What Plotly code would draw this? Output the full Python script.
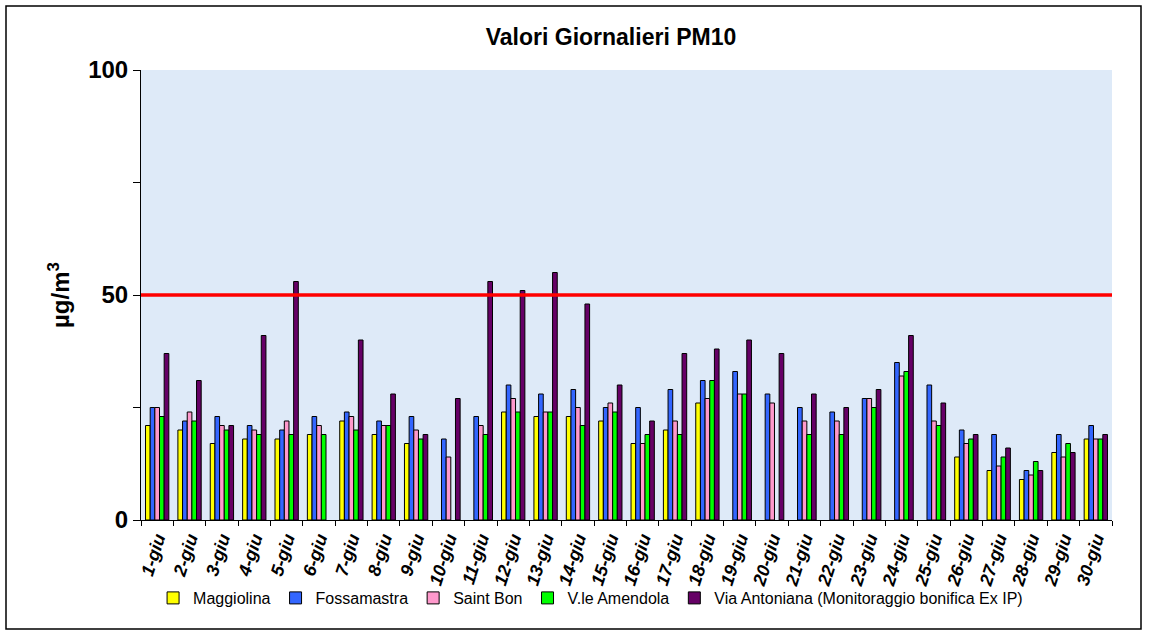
import plotly.graph_objects as go

days = [f"{i}-giu" for i in range(1, 31)]

maggiolina = [21, 20, 17, 18, 18, 19, 22, 19, 17, None, None, 24, 23, 23, 22,
              17, 20, 26, None, None, None, None, None, None, None, 14, 11, 9, 15, 18]
fossamastra = [25, 22, 23, 21, 20, 23, 24, 22, 23, 18, 23, 30, 28, 29, 25,
               25, 29, 31, 33, 28, 25, 24, 27, 35, 30, 20, 19, 11, 19, 21]
saint_bon = [25, 24, 21, 20, 22, 21, 23, 21, 20, 14, 21, 27, 24, 25, 26,
             17, 22, 27, 28, 26, 22, 22, 27, 32, 22, 17, 12, 10, 14, 18]
amendola = [23, 22, 20, 19, 19, 19, 20, 21, 18, None, 19, 24, 24, 21, 24,
            19, 19, 31, 28, None, 19, 19, 25, 33, 21, 18, 14, 13, 17, 18]
antoniana = [37, 31, 21, 41, 53, None, 40, 28, 19, 27, 53, 51, 55, 48, 30,
             22, 37, 38, 40, 37, 28, 25, 29, 41, 26, 19, 16, 11, 15, 19]

series = [
    ("Maggiolina", maggiolina, "#ffff00"),
    ("Fossamastra", fossamastra, "#3366ff"),
    ("Saint Bon", saint_bon, "#ff99cc"),
    ("V.le Amendola", amendola, "#00ff00"),
    ("Via Antoniana (Monitoraggio bonifica Ex IP)", antoniana, "#660066"),
]
limit_value = 50
y_ticks = [0, 25, 50, 75, 100]
y_ticktext = ["0", "", "50", "", "100"]

fig = go.Figure()
for name, vals, col in series:
    fig.add_trace(go.Bar(
        x=days, y=vals, name=name,
        marker=dict(color=col, line=dict(color="black", width=1)),
    ))

W, H = 1149, 636
L, R, T, B = 141, 37, 70, 116
pw, ph = W - L - R, H - T - B
FONT = "Liberation Sans, Arial"

fig.add_shape(type="line", xref="paper", yref="y", x0=0, x1=1,
              y0=limit_value, y1=limit_value,
              line=dict(color="#ff0000", width=3.5))
# outer border
fig.add_shape(type="rect", xref="paper", yref="paper",
              x0=(6 - L) / pw, x1=(1141 - L) / pw,
              y0=(H - B - 629) / ph, y1=(H - B - 6) / ph,
              line=dict(color="black", width=1.5), fillcolor="rgba(0,0,0,0)")

fig.add_annotation(
    text="<b>µg/m<sup>3</sup></b>", xref="paper", yref="paper",
    x=(42 - L) / pw, y=0.5, textangle=-90, showarrow=False,
    font=dict(family=FONT, size=24, color="black"),
)

fig.update_layout(
    width=W, height=H,
    margin=dict(l=L, r=R, t=T, b=B, autoexpand=False),
    paper_bgcolor="white",
    plot_bgcolor="#deeaf8",
    barmode="group", bargap=0.28, bargroupgap=0,
    font=dict(family=FONT, color="black"),
    title=dict(text="<b>Valori Giornalieri PM10</b>", x=611 / W, xanchor="center",
               y=1 - 37 / H, yanchor="middle",
               font=dict(size=23, family=FONT, color="black")),
    showlegend=True,
    legend=dict(orientation="h", x=0.463, xanchor="center",
                y=(H - B - 598) / ph, yanchor="middle",
                font=dict(size=16, family=FONT),
                itemwidth=30, tracegroupgap=0,
                bgcolor="rgba(0,0,0,0)"),
    xaxis=dict(
        type="category", showgrid=False, showline=True, linecolor="black",
        linewidth=1, ticks="outside", ticklen=5, tickcolor="black",
        tickson="boundaries", tickangle=-72,
        tickfont=dict(size=18, family=FONT, weight="bold", style="italic"),
    ),
    yaxis=dict(
        range=[0, 100], tickvals=y_ticks, ticktext=y_ticktext,
        showgrid=False, showline=True, linecolor="black", linewidth=1,
        ticks="outside", ticklen=7, tickcolor="black", zeroline=False,
        tickfont=dict(size=24, family=FONT, weight="bold"),
    ),
)

fig.write_html("out.html", config={"displayModeBar": False},
               post_script="document.body.style.margin='0';")
